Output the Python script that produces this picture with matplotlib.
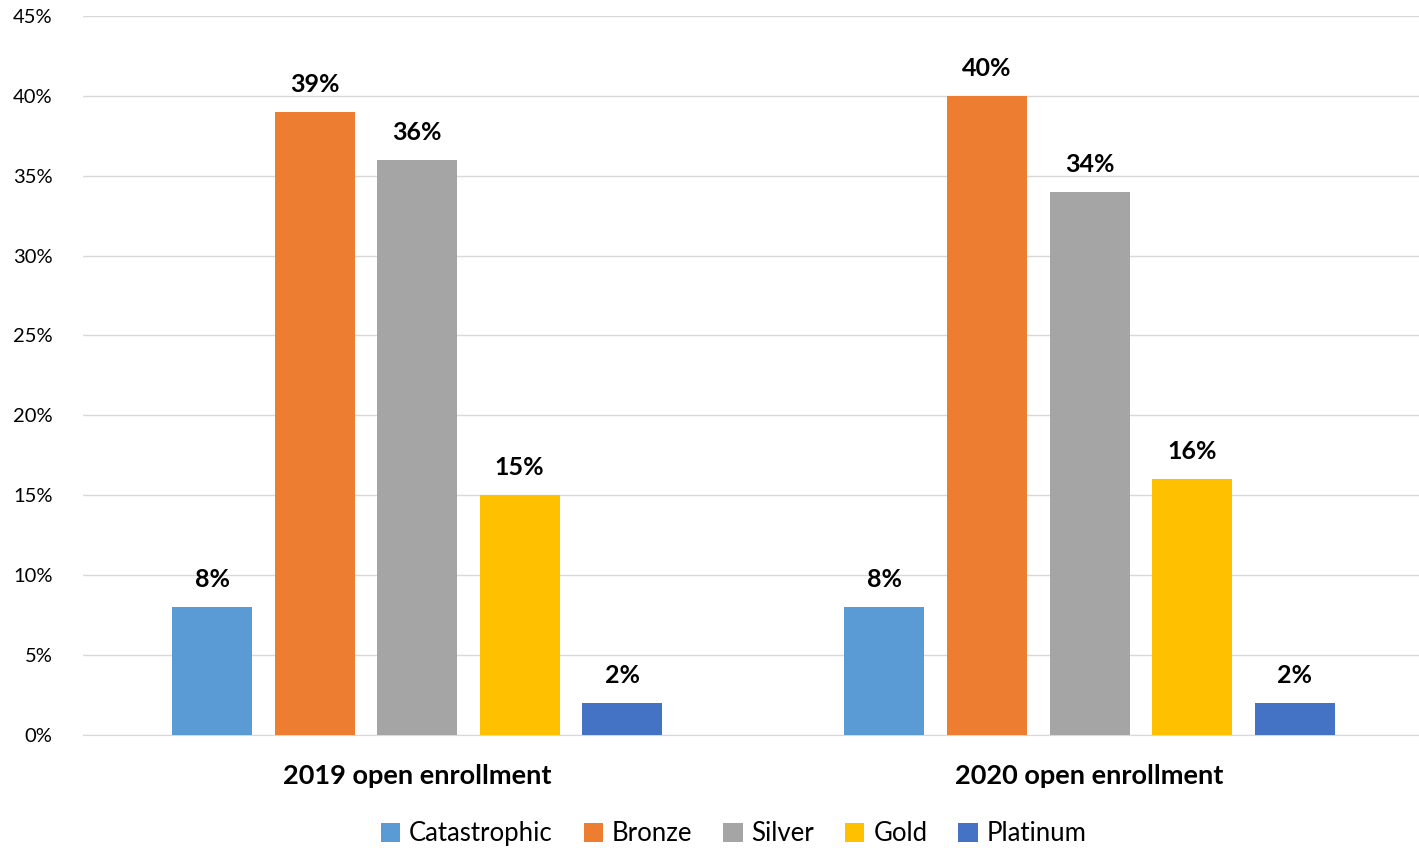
import numpy as np
import matplotlib.pyplot as plt

# data
categories = ['2019 open enrollment', '2020 open enrollment']
tiers = ['Catastrophic', 'Bronze', 'Silver', 'Gold', 'Platinum']
values = {
    'Catastrophic': [8, 8],
    'Bronze': [39, 40],
    'Silver': [36, 34],
    'Gold': [15, 16],
    'Platinum': [2, 2],
}
colors = ['#5B9BD5', '#ED7D31', '#A5A5A5', '#FFC000', '#4472C4']
yticks = np.arange(0, 50, 5)

plt.rcParams['font.family'] = ['Lato', 'DejaVu Sans']

fig = plt.figure(figsize=(14.19, 8.48), dpi=100)
ax = fig.add_axes([0.0585, 0.1333, 0.9415, 0.848])

x = np.arange(len(categories))
step = 0.1525
width = 0.119
for i, tier in enumerate(tiers):
    pos = x + (i - 2) * step
    bars = ax.bar(pos, values[tier], width, color=colors[i], label=tier, zorder=3)
    for b, v in zip(bars, values[tier]):
        ax.text(b.get_x() + b.get_width() / 2, v + 1.0, f'{v}%',
                ha='center', va='bottom', fontsize=18, fontweight='bold')

ax.set_xlim(-0.497, 1.49)
ax.set_ylim(0, 45)
ax.set_yticks(yticks)
ax.set_yticklabels([f'{t}%' for t in yticks], fontsize=14.5)
ax.set_xticks(x)
ax.set_xticklabels(categories, fontsize=19.5, fontweight='bold')
ax.tick_params(axis='both', length=0)
ax.tick_params(axis='x', pad=21)
ax.tick_params(axis='y', pad=22)
ax.grid(axis='y', color='#D9D9D9', linewidth=1, zorder=0)
for s in ['top', 'right', 'left']:
    ax.spines[s].set_visible(False)
ax.spines['bottom'].set_color('#D9D9D9')

fig.legend(loc='center', bbox_to_anchor=(0.517, 0.017), ncol=5, frameon=False,
           fontsize=18.5, handlelength=0.75, handleheight=0.75, handletextpad=0.35,
           columnspacing=1.2)

fig.savefig('out.png', dpi=100)
